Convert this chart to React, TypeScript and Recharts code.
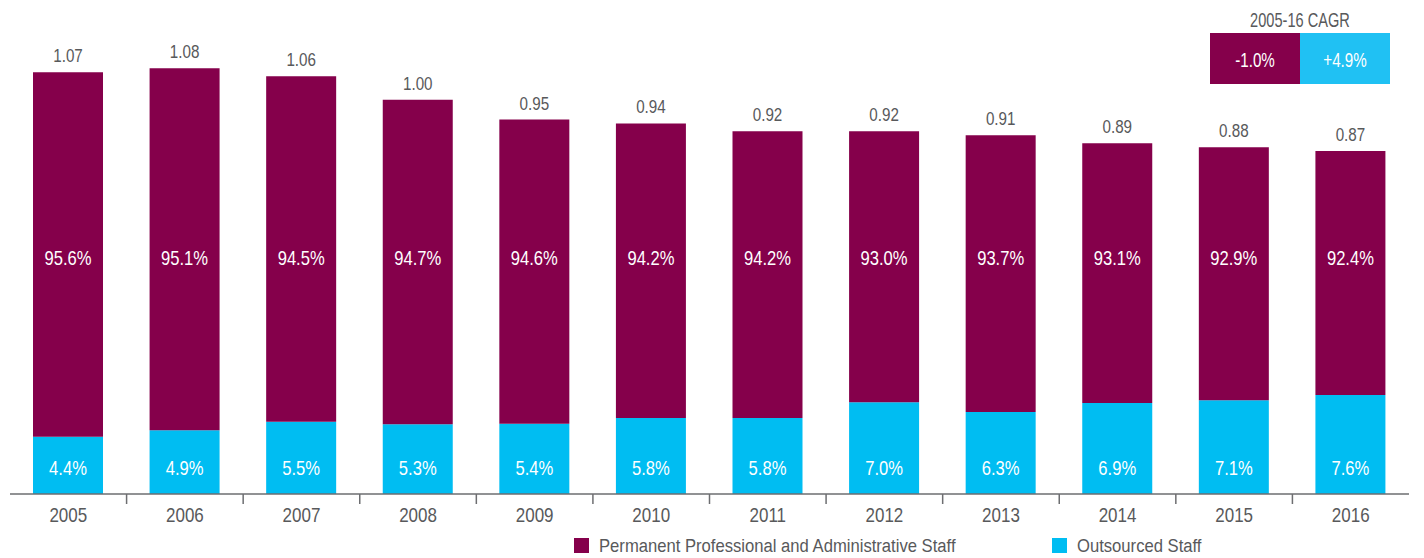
import React from 'react';
import { BarChart, Bar, XAxis, YAxis, Legend, LabelList } from 'recharts';

const years = ['2005', '2006', '2007', '2008', '2009', '2010', '2011', '2012', '2013', '2014', '2015', '2016'];
const totals = [1.07, 1.08, 1.06, 1.0, 0.95, 0.94, 0.92, 0.92, 0.91, 0.89, 0.88, 0.87];
const permanentPct = ['95.6%', '95.1%', '94.5%', '94.7%', '94.6%', '94.2%', '94.2%', '93.0%', '93.7%', '93.1%', '92.9%', '92.4%'];
const outsourcedPct = ['4.4%', '4.9%', '5.5%', '5.3%', '5.4%', '5.8%', '5.8%', '7.0%', '6.3%', '6.9%', '7.1%', '7.6%'];
// height of the blue segment as drawn in the source (not to scale with the %)
const outsourcedDrawn = [0.145, 0.162, 0.183, 0.177, 0.178, 0.193, 0.193, 0.233, 0.208, 0.231, 0.238, 0.251];
const cagrTitle = '2005-16 CAGR';
const cagrLabels = ['-1.0%', '+4.9%'];
const legendNames = ['Permanent Professional and Administrative Staff', 'Outsourced Staff'];

const PURPLE = '#85004b';
const BLUE = '#00bdf2';
const CAGR_BLUE = '#20c1f3';
const GREY = '#58595b';
const FONT = '"Liberation Sans", Arial, sans-serif';

const data = years.map((year, i) => ({
  year,
  outsourced: outsourcedDrawn[i],
  permanent: +(totals[i] - outsourcedDrawn[i]).toFixed(3),
  total: totals[i].toFixed(2),
  permPct: permanentPct[i],
  outPct: outsourcedPct[i],
}));

const BAND = 1399 / years.length;

// narrow text: the source uses a condensed face, so squeeze Liberation Sans horizontally
const NarrowText = ({ x, y, sx = 0.84, anchor = 'middle', fill = GREY, size = 20, children }: any) => (
  <text
    transform={`translate(${x},${y}) scale(${sx},1)`}
    textAnchor={anchor}
    fill={fill}
    fontSize={size}
    fontFamily={FONT}
  >
    {children}
  </text>
);

const YearTick = (props: any) => {
  const { x, payload, index } = props;
  return (
    <g>
      {index > 0 && <line x1={x - BAND / 2} x2={x - BAND / 2} y1={494} y2={504} stroke="#6d6e71" strokeWidth={1.5} />}
      <NarrowText x={x} y={521.5} sx={0.85}>{payload.value}</NarrowText>
    </g>
  );
};

const fixedLabel = (capCenter: number) => (props: any) => {
  const { x, width, value } = props;
  return (
    <NarrowText x={x + width / 2} y={capCenter + 7} sx={0.83} fill="#ffffff">
      {value}
    </NarrowText>
  );
};

const totalLabel = (props: any) => {
  const { x, y, width, value } = props;
  return (
    <NarrowText x={x + width / 2} y={y - 10} sx={0.8} size={19}>
      {value}
    </NarrowText>
  );
};

const LegendContent = (props: any) => {
  const { payload } = props;
  const colorOf = (name: string) => (payload || []).find((p: any) => p.value === name)?.color;
  const offsets = [574, 1052];
  return (
    <svg width={1424} height={18} style={{ display: 'block', overflow: 'visible' }}>
      {legendNames.map((name, i) => (
        <g key={name}>
          <rect x={offsets[i]} y={0} width={15} height={15} fill={colorOf(name)} />
          <NarrowText x={offsets[i] + 25} y={14} sx={0.9} size={18.5} anchor="start">{name}</NarrowText>
        </g>
      ))}
    </svg>
  );
};

export default function App() {
  return (
    <div style={{ position: 'absolute', left: 0, top: 0, width: 1424, height: 558, background: '#fff' }}>
      <BarChart width={1424} height={558} data={data} margin={{ top: 21, right: 15, left: 10, bottom: 0 }}>
        <XAxis dataKey="year" height={64} tickLine={false} axisLine={{ stroke: '#6d6e71', strokeWidth: 1.5 }} tick={<YearTick />} interval={0} />
        <YAxis hide domain={[0, 1.2]} />
        <Legend
          layout="horizontal"
          verticalAlign="middle"
          align="center"
          content={<LegendContent />}
          wrapperStyle={{ top: 538, left: 0, width: 1424 }}
        />
        <Bar dataKey="outsourced" stackId="a" fill={BLUE} barSize={70} isAnimationActive={false} name="Outsourced Staff">
          <LabelList dataKey="outPct" content={fixedLabel(468)} />
        </Bar>
        <Bar dataKey="permanent" stackId="a" fill={PURPLE} barSize={70} isAnimationActive={false} name="Permanent Professional and Administrative Staff">
          <LabelList dataKey="permPct" content={fixedLabel(258)} />
          <LabelList dataKey="total" content={totalLabel} />
        </Bar>
      </BarChart>
      <svg width={200} height={90} style={{ position: 'absolute', left: 1200, top: 0 }}>
        <NarrowText x={100} y={26.5} sx={0.73} size={20}>{cagrTitle}</NarrowText>
        {cagrLabels.map((c, i) => (
          <g key={c}>
            <rect x={10 + i * 90} y={33} width={90} height={51} fill={i === 0 ? PURPLE : CAGR_BLUE} />
            <NarrowText x={55 + i * 90} y={67} sx={0.76} fill="#ffffff">{c}</NarrowText>
          </g>
        ))}
      </svg>
    </div>
  );
}
